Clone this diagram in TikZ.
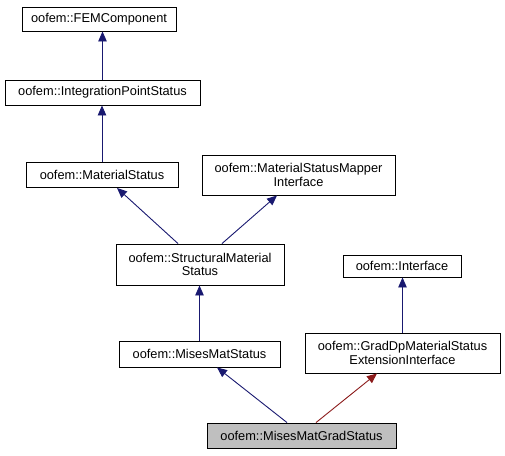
\documentclass[tikz,border=0pt]{standalone}
\usepackage{fontspec}
\setmainfont{Liberation Sans}
\usetikzlibrary{arrows.meta}

\definecolor{edgeblue}{HTML}{191970}
\definecolor{edgered}{HTML}{8B1A1A}
\definecolor{boxgrey}{HTML}{BFBFBF}

\begin{document}
\begin{tikzpicture}
		[x=1pt,y=-1pt,
		cls/.style={rectangle,draw=black,fill=white,line width=0.9pt,inner sep=0pt,align=center,font=\fontsize{12.8}{13.5}\selectfont},
		current/.style={cls,fill=boxgrey},
		inherit/.style={edgeblue,line width=0.9pt,{Triangle[length=10pt,width=8.5pt]}-},
		priv/.style={inherit,edgered}]
		\useasboundingbox (0,0) rectangle (505,455);

		\node [cls,minimum width=154pt,minimum height=24pt] (fem) at (99,19) {oofem::FEMComponent};
		\node [cls,minimum width=195pt,minimum height=25pt] (ips) at (102.5,92.5) {oofem::IntegrationPointStatus};
		\node [cls,minimum width=152pt,minimum height=25pt] (ms) at (102,175) {oofem::MaterialStatus};
		\node [cls,minimum width=193pt,minimum height=40pt] (msmi) at (298.5,175) {oofem::MaterialStatusMapper\\Interface};
		\node [cls,minimum width=168pt,minimum height=41pt] (sms) at (200,264.5) {oofem::StructuralMaterial\\Status};
		\node [cls,minimum width=118pt,minimum height=22pt] (intf) at (402,266) {oofem::Interface};
		\node [cls,minimum width=161pt,minimum height=26pt] (mms) at (199.5,354) {oofem::MisesMatStatus};
		\node [cls,minimum width=195pt,minimum height=40pt] (gdp) at (402.5,353) {oofem::GradDpMaterialStatus\\ExtensionInterface};
		\node [current,minimum width=189pt,minimum height=25pt] (mmgs) at (301.5,435.5) {oofem::MisesMatGradStatus};

		\draw [inherit] (ips.north |- fem.south) -- (ips.north);
		\draw [inherit] (ms.north |- ips.south) -- (ms.north);
		\draw [inherit] ([xshift=15pt]ms.south) -- ([xshift=-22pt]sms.north);
		\draw [inherit] ([xshift=-21.5pt]msmi.south) -- ([xshift=22pt]sms.north);
		\draw [inherit] (mms.north |- sms.south) -- (mms.north);
		\draw [inherit] (gdp.north |- intf.south) -- (gdp.north);
		\draw [inherit] ([xshift=17.5pt]mms.south) -- ([xshift=-14.5pt]mmgs.north);
		\draw [priv] ([xshift=-25.5pt]gdp.south) -- ([xshift=14.5pt]mmgs.north);

	\end{tikzpicture}
\end{document}
